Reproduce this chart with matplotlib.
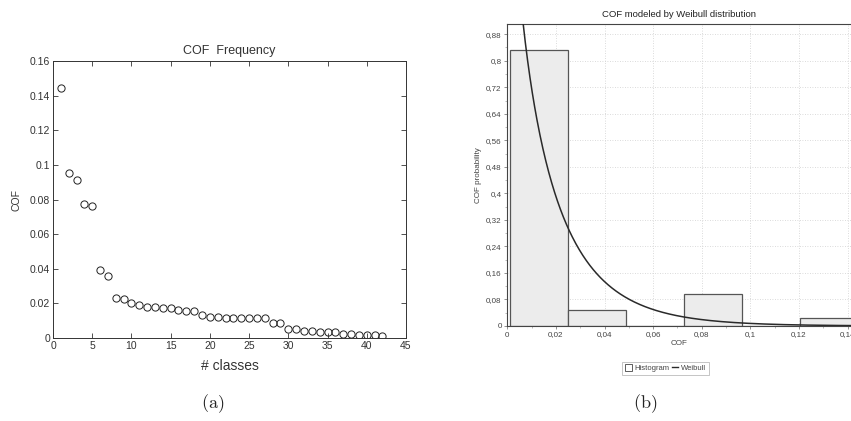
import numpy as np
import matplotlib
matplotlib.use("Agg")
import matplotlib.pyplot as plt
from matplotlib.ticker import MultipleLocator, FuncFormatter
from matplotlib.patches import Patch
from matplotlib.lines import Line2D

plt.rcParams['font.family'] = ['Liberation Sans', 'DejaVu Sans']
plt.rcParams['mathtext.fontset'] = 'cm'

# COF value of each class, sorted in decreasing order
classes = np.arange(1, 43)
cof = [0.1445, 0.0955, 0.0912, 0.0774, 0.0765, 0.0394, 0.0361, 0.0234,
       0.0227, 0.0202, 0.0192, 0.0182, 0.0182, 0.0175, 0.0175, 0.0163,
       0.0154, 0.0156, 0.0131, 0.0123, 0.0123, 0.0113, 0.0113, 0.0113,
       0.0113, 0.0113, 0.0113, 0.0086, 0.0086, 0.0052, 0.0052, 0.0042,
       0.0042, 0.0033, 0.0036, 0.0033, 0.0023, 0.0023, 0.0015, 0.0015,
       0.0015, 0.0012]

# fitted Weibull model
weibull_shape = 0.9
weibull_scale = 0.017
n_bins = 6

fig = plt.figure(figsize=(8.51, 4.21), dpi=100)

# ---------------- (a) COF frequency ----------------
ax1 = fig.add_axes([0.0623, 0.197, 0.4147, 0.658])
ax1.plot(classes, cof, linestyle='none', marker='o', markersize=5.2,
         markerfacecolor='none', markeredgecolor='#222222', markeredgewidth=0.7)
ax1.set_xlim(0, 45)
ax1.set_ylim(0, 0.16)
ax1.xaxis.set_major_locator(MultipleLocator(5))
ax1.yaxis.set_major_locator(MultipleLocator(0.02))
ax1.yaxis.set_major_formatter(FuncFormatter(lambda v, p: f"{v:g}"))
ax1.tick_params(direction='in', top=True, right=True, length=3.5, width=0.6,
                labelsize=7.5, colors='#333333', labelcolor='#333333', pad=2)
for s in ax1.spines.values():
    s.set_linewidth(0.7)
    s.set_color('#333333')
ax1.set_title('COF  Frequency', fontsize=9, color='#333333', pad=5)
ax1.set_xlabel('# classes', fontsize=10, color='#333333', labelpad=6)
ax1.set_ylabel('COF', fontsize=7.5, color='#333333', labelpad=6)

# ---------------- (b) Weibull model ----------------
ax2 = fig.add_axes([0.5961, 0.2257, 0.4039, 0.7166])
counts, edges = np.histogram(cof, bins=n_bins)
probs = counts / len(cof)
width = edges[1] - edges[0]
ax2.bar(edges[:-1], probs, width=width, align='edge', color='#ececec',
        edgecolor='#555555', linewidth=0.9, zorder=2)

x = np.linspace(0.0004, 0.145, 600)
k, lam = weibull_shape, weibull_scale
pdf = (k / lam) * (x / lam) ** (k - 1) * np.exp(-(x / lam) ** k)
ax2.plot(x, pdf * width, color='#2a2a2a', linewidth=1.1, zorder=3)

ax2.set_xlim(0, 0.1414)
ax2.set_ylim(0, 0.91)
ax2.xaxis.set_major_locator(MultipleLocator(0.02))
ax2.xaxis.set_minor_locator(MultipleLocator(0.01))
ax2.yaxis.set_major_locator(MultipleLocator(0.08))
ax2.yaxis.set_minor_locator(MultipleLocator(0.04))
comma = FuncFormatter(lambda v, p: f"{round(v, 4):g}".replace('.', ','))
ax2.xaxis.set_major_formatter(comma)
ax2.yaxis.set_major_formatter(comma)
ax2.tick_params(which='major', direction='out', length=2.5, width=0.5,
                labelsize=5.8, colors='#666666', labelcolor='#444444', pad=1.5)
ax2.tick_params(which='minor', direction='out', length=1.5, width=0.4, colors='#888888')
ax2.grid(True, which='major', linestyle=(0, (1, 2)), color='#cfcfcf', linewidth=0.6, zorder=0)
ax2.set_axisbelow(True)
ax2.spines['right'].set_visible(False)
for name in ('left', 'top', 'bottom'):
    ax2.spines[name].set_color('#444444')
    ax2.spines[name].set_linewidth(0.8)
ax2.set_title('COF modeled by Weibull distribution', fontsize=6.8, color='#222222', pad=5)
ax2.set_xlabel('COF', fontsize=5.8, color='#444444', labelpad=1)
ax2.set_ylabel('COF probability', fontsize=5.8, color='#444444', labelpad=3)

handles = [Patch(facecolor='white', edgecolor='#444444', linewidth=0.6),
           Line2D([0], [0], color='#2a2a2a', linewidth=1.0)]
leg = fig.legend(handles, ['Histogram', 'Weibull'], loc='center',
                 bbox_to_anchor=(665.5 / 851, 1 - 368.3 / 421), ncol=2,
                 fontsize=5.5, frameon=True, fancybox=False, handlelength=0.9,
                 handleheight=0.9, handletextpad=0.3, columnspacing=0.3,
                 borderpad=0.35, borderaxespad=0)
leg.get_frame().set_edgecolor('#aaaaaa')
leg.get_frame().set_linewidth(0.6)
for t in leg.get_texts():
    t.set_color('#444444')

# panel captions
fig.text(213 / 851, 1 - 404 / 421, r'$\mathrm{(a)}$', fontsize=13,
         ha='center', va='center', color='#222222')
fig.text(645 / 851, 1 - 404 / 421, r'$\mathrm{(b)}$', fontsize=13,
         ha='center', va='center', color='#222222')

fig.savefig('out.png', dpi=100)
